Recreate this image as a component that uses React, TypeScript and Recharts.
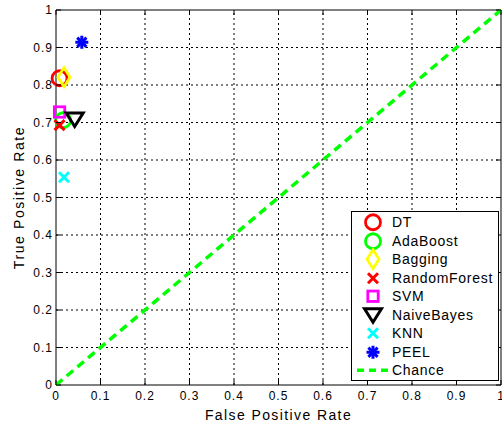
import { ScatterChart, Scatter, XAxis, YAxis, ReferenceLine } from 'recharts'

const models = ['DT', 'AdaBoost', 'Bagging', 'RandomForest', 'SVM', 'NaiveBayes', 'KNN', 'PEEL']
const fpr = [0.008, 0.016, 0.018, 0.008, 0.008, 0.042, 0.018, 0.058]
const tpr = [0.818, 0.706, 0.821, 0.693, 0.728, 0.708, 0.554, 0.914]
const markers = ['circle', 'circle', 'diamond', 'x', 'square', 'triangle', 'x', 'star']
const colors = ['#ff0000', '#00ff00', '#ffff00', '#ff0000', '#ff00ff', '#000000', '#00ffff', '#0000ff']

const chanceX = [0, 1]
const chanceY = [0, 1]

const ticks = [0, 0.1, 0.2, 0.3, 0.4, 0.5, 0.6, 0.7, 0.8, 0.9, 1]
const tickLabels = ['0', '0.1', '0.2', '0.3', '0.4', '0.5', '0.6', '0.7', '0.8', '0.9', '1']

const W = 502
const H = 425
const PL = 56
const PR = 501
const PT = 10
const PB = 385
const FONT = '"Liberation Sans", Arial, sans-serif'

function Marker({ kind, cx, cy, color }: { kind: string; cx: number; cy: number; color: string }) {
  const sw = 2.8
  if (kind === 'circle') {
    return <circle cx={cx} cy={cy} r={7.5} fill="none" stroke={color} strokeWidth={sw} />
  }
  if (kind === 'diamond') {
    const d = `M${cx},${cy - 9.5} L${cx + 6},${cy} L${cx},${cy + 9.5} L${cx - 6},${cy} Z`
    return <path d={d} fill="none" stroke={color} strokeWidth={sw} />
  }
  if (kind === 'x') {
    const s = 5
    return (
      <g stroke={color} strokeWidth={3}>
        <line x1={cx - s} y1={cy - s} x2={cx + s} y2={cy + s} />
        <line x1={cx - s} y1={cy + s} x2={cx + s} y2={cy - s} />
      </g>
    )
  }
  if (kind === 'square') {
    return <rect x={cx - 5.2} y={cy - 5.2} width={10.4} height={10.4} fill="none" stroke={color} strokeWidth={sw} />
  }
  if (kind === 'triangle') {
    const d = `M${cx - 8.5},${cy - 6.5} L${cx + 8.5},${cy - 6.5} L${cx},${cy + 7} Z`
    return <path d={d} fill="none" stroke={color} strokeWidth={3} strokeLinejoin="miter" />
  }
  if (kind === 'star') {
    const r = 6.5
    const q = r * 0.707
    return (
      <g stroke={color} strokeWidth={3}>
        <line x1={cx - r} y1={cy} x2={cx + r} y2={cy} />
        <line x1={cx} y1={cy - r} x2={cx} y2={cy + r} />
        <line x1={cx - q} y1={cy - q} x2={cx + q} y2={cy + q} />
        <line x1={cx - q} y1={cy + q} x2={cx + q} y2={cy - q} />
      </g>
    )
  }
  return null
}

function XTick({ x, payload }: any) {
  const i = ticks.indexOf(payload.value)
  return (
    <g>
      <line x1={x} x2={x} y1={PB} y2={PB - 5} stroke="#000" />
      <line x1={x} x2={x} y1={PT} y2={PT + 5} stroke="#000" />
      <text x={x} y={PB + 15} textAnchor="middle" fontSize={12} letterSpacing={1} fill="#000" fontFamily={FONT}>
        {tickLabels[i]}
      </text>
    </g>
  )
}

function YTick({ y, payload }: any) {
  const i = ticks.indexOf(payload.value)
  return (
    <g>
      <line x1={PL} x2={PL + 5} y1={y} y2={y} stroke="#000" />
      <line x1={PR} x2={PR - 5} y1={y} y2={y} stroke="#000" />
      <text x={53} y={y + 4} textAnchor="end" fontSize={12} letterSpacing={1} fill="#000" fontFamily={FONT}>
        {tickLabels[i]}
      </text>
    </g>
  )
}

function LegendBox() {
  return (
    <div
      style={{
        position: 'absolute',
        left: 351,
        top: 211,
        boxSizing: 'border-box',
        width: 148,
        height: 170,
        border: '1px solid #000',
        background: '#fff',
        paddingTop: 1,
        fontFamily: FONT,
        fontSize: 14,
        letterSpacing: 0.7,
        color: '#000',
      }}
    >
      {models.map((m, i) => (
        <div key={m} style={{ display: 'flex', alignItems: 'center', height: 18.5 }}>
          <svg width={40} height={18.5} style={{ overflow: 'visible', flex: 'none' }}>
            <Marker kind={markers[i]} cx={21} cy={9.25} color={colors[i]} />
          </svg>
          <span style={{ whiteSpace: 'nowrap' }}>{m}</span>
        </div>
      ))}
      <div style={{ display: 'flex', alignItems: 'center', height: 18.5 }}>
        <svg width={40} height={18.5} style={{ flex: 'none' }}>
          <line x1={5} x2={37} y1={9.25} y2={9.25} stroke="#00ff00" strokeWidth={3.5} strokeDasharray="7 5" />
        </svg>
        <span>Chance</span>
      </div>
    </div>
  )
}

function YLabel({ viewBox }: any) {
  const cy = viewBox.y + viewBox.height / 2
  return (
    <text
      x={19}
      y={cy}
      dy="0.35em"
      transform={`rotate(-90, 19, ${cy})`}
      textAnchor="middle"
      fontSize={14}
      letterSpacing={1.6}
      fill="#000"
      fontFamily={FONT}
    >
      True Positive Rate
    </text>
  )
}

export default function App() {
  const chance = chanceX.map((x, i) => ({ x, y: chanceY[i] }))
  const inner = ticks.slice(1, -1)
  return (
    <div style={{ position: 'absolute', left: 0, top: 0, width: W, height: H, background: '#fff' }}>
      <ScatterChart width={W} height={H} margin={{ top: PT, right: W - PR, bottom: 0, left: 0 }}>
        <XAxis
          type="number"
          dataKey="x"
          domain={[0, 1]}
          ticks={ticks}
          interval={0}
          height={H - PB}
          tickSize={0}
          axisLine={{ stroke: '#000' }}
          tick={<XTick />}
          label={{
            value: 'False Positive Rate',
            position: 'insideBottom',
            offset: 5,
            fontSize: 14,
            letterSpacing: 1.4,
            fill: '#000',
            fontFamily: FONT,
          }}
        />
        <YAxis
          type="number"
          dataKey="y"
          domain={[0, 1]}
          ticks={ticks}
          interval={0}
          width={PL}
          tickSize={0}
          axisLine={{ stroke: '#000' }}
          tick={<YTick />}
          label={<YLabel />}
        />
        {inner.map((t) => (
          <ReferenceLine key={'gx' + t} x={t} stroke="#000" strokeDasharray="2 3" />
        ))}
        {inner.map((t) => (
          <ReferenceLine key={'gy' + t} y={t} stroke="#000" strokeDasharray="2 3" />
        ))}
        <ReferenceLine y={1} stroke="#000" />
        <ReferenceLine x={1} stroke="#000" />
        <Scatter
          name="Chance"
          data={chance}
          line={{ stroke: '#00ff00', strokeWidth: 3.5, strokeDasharray: '8.5 5.5' }}
          shape={() => <g />}
          isAnimationActive={false}
        />
        {models.map((m, i) => (
          <Scatter
            key={m}
            name={m}
            data={[{ x: fpr[i], y: tpr[i] }]}
            isAnimationActive={false}
            shape={(p: any) => <Marker kind={markers[i]} cx={p.cx} cy={p.cy} color={colors[i]} />}
          />
        ))}
      </ScatterChart>
      <LegendBox />
    </div>
  )
}
